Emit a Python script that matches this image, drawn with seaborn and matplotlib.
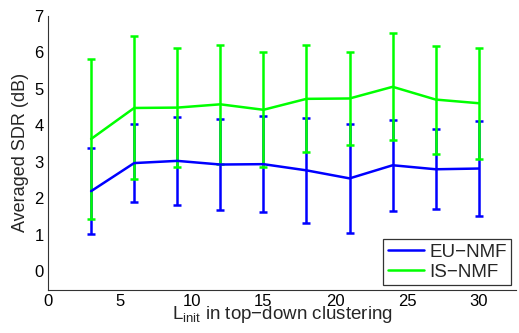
import numpy as np
import pandas as pd
import matplotlib
matplotlib.use("Agg")
import matplotlib.pyplot as plt
import seaborn as sns

# values
L_init = [3, 6, 9, 12, 15, 18, 21, 24, 27, 30]
eu_mean = [2.19, 2.96, 3.02, 2.92, 2.93, 2.76, 2.54, 2.90, 2.79, 2.81]
eu_std = [1.18, 1.07, 1.21, 1.26, 1.31, 1.43, 1.49, 1.25, 1.10, 1.29]
is_mean = [3.62, 4.47, 4.48, 4.57, 4.42, 4.72, 4.73, 5.05, 4.70, 4.60]
is_std = [2.20, 1.96, 1.62, 1.63, 1.58, 1.47, 1.27, 1.47, 1.48, 1.52]
series_names = ["EU\u2212NMF", "IS\u2212NMF"]
colors = ["#0000ff", "#00ff00"]

df = pd.DataFrame({
    "L": L_init * 2,
    "SDR": eu_mean + is_mean,
    "std": eu_std + is_std,
    "method": [series_names[0]] * len(L_init) + [series_names[1]] * len(L_init),
})

sns.set_style("white")
plt.rcParams["font.family"] = ["Liberation Sans", "DejaVu Sans"]
plt.rcParams["mathtext.fontset"] = "custom"
plt.rcParams["mathtext.rm"] = "Liberation Sans"
plt.rcParams["mathtext.it"] = "Liberation Sans"

fig = plt.figure(figsize=(5.19, 3.33), dpi=100)
ax = fig.add_axes([0.0925, 0.129, 0.902, 0.824])

for name, c in zip(series_names, colors):
    sub = df[df["method"] == name]
    ax.errorbar(sub["L"], sub["SDR"], yerr=sub["std"], fmt="none",
                ecolor=c, elinewidth=1.8, capsize=2.6, capthick=1.8)

sns.lineplot(data=df, x="L", y="SDR", hue="method", palette=colors,
             linewidth=1.8, ax=ax)

ax.set_xlim(0, 32.6)
ax.set_ylim(-0.52, 7)
ax.set_xticks([0, 5, 10, 15, 20, 25, 30])
ax.set_yticks(range(0, 8))
ax.tick_params(direction="in", length=4, width=0.8, labelsize=12, colors="black", pad=3)
for side in ["top", "right"]:
    ax.spines[side].set_visible(False)
for side in ["left", "bottom"]:
    ax.spines[side].set_color("#333333")
    ax.spines[side].set_linewidth(0.8)

ax.set_xlabel("$\\mathregular{L_{init}}$ in top\u2212down clustering",
              fontsize=13.5, labelpad=-4)
ax.set_ylabel("Averaged SDR (dB)", fontsize=13, labelpad=4)

leg = ax.legend(loc="lower right", fontsize=13.5, frameon=True, fancybox=False,
                handlelength=1.9, handletextpad=0.3, borderpad=0.25,
                labelspacing=0.15, borderaxespad=0.25)
leg.get_frame().set_edgecolor("black")
leg.get_frame().set_linewidth(0.9)
leg.set_title(None)

fig.savefig("out.png", dpi=100)
